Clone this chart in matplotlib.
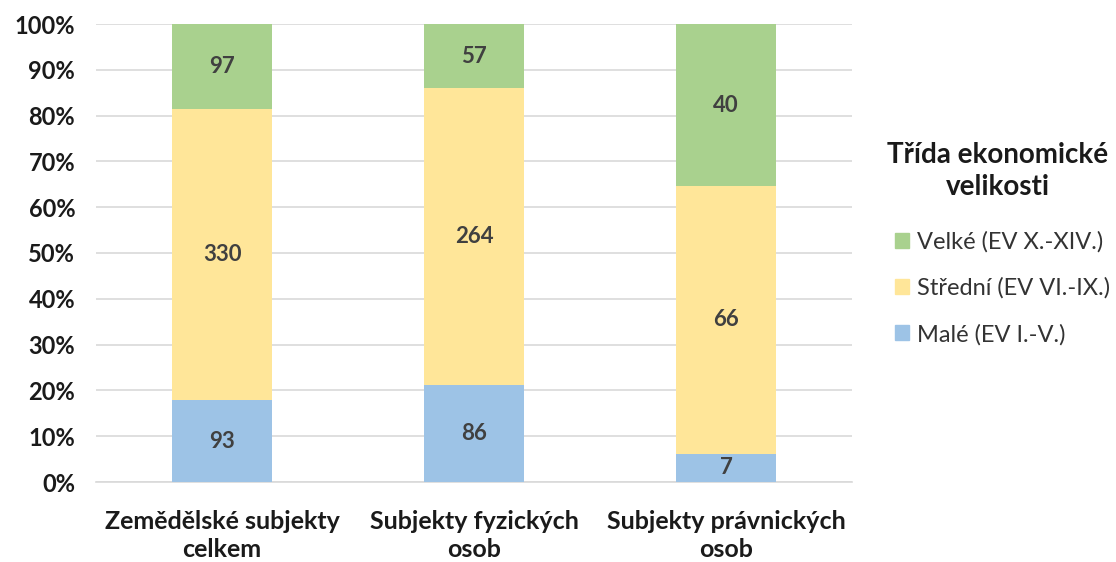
import matplotlib
matplotlib.use("Agg")
import matplotlib.pyplot as plt
import numpy as np
from matplotlib.patches import Patch

categories = ["Zemědělské subjekty\ncelkem", "Subjekty fyzických\nosob", "Subjekty právnických\nosob"]
male = [93, 86, 7]
stredni = [330, 264, 66]
velke = [97, 57, 40]
series_names = ["Malé (EV I.-V.)", "Střední (EV VI.-IX.)", "Velké (EV X.-XIV.)"]
colors = ["#9DC3E6", "#FFE699", "#A9D18E"]
yticks = [0, 10, 20, 30, 40, 50, 60, 70, 80, 90, 100]

plt.rcParams['font.family'] = ['Lato', 'DejaVu Sans']

fig = plt.figure(figsize=(11.16, 5.62), dpi=100)
ax = fig.add_axes([96/1116, 1-482/562, (852-96)/1116, (482-24)/562])

data = np.array([male, stredni, velke], dtype=float)
totals = data.sum(axis=0)
pct = data / totals * 100
x = np.arange(len(categories))
bottom = np.zeros(len(categories))
for i in range(3):
    ax.bar(x, pct[i], 0.4, bottom=bottom, color=colors[i], zorder=3)
    for j in range(len(categories)):
        ax.text(x[j], bottom[j] + pct[i][j] / 2, str(int(data[i][j])), ha='center', va='center',
                fontsize=16, fontweight='bold', color='#404040', zorder=4)
    bottom += pct[i]

ax.set_xlim(-0.5, 2.5)
ax.set_ylim(0, 100)
ax.set_yticks(yticks)
ax.set_yticklabels([f"{t}%" for t in yticks], fontsize=17, fontweight='bold', color='#1a1a1a')
ax.set_xticks(x)
ax.set_xticklabels(categories, fontsize=18, fontweight='bold', color='#1a1a1a', linespacing=1.25)
ax.tick_params(axis='both', length=0)
ax.tick_params(axis='x', pad=20)
ax.tick_params(axis='y', pad=15)
ax.grid(axis='y', color='#D9D9D9', linewidth=1.2, zorder=0)
for s in ['top', 'right', 'left']:
    ax.spines[s].set_visible(False)
ax.spines['bottom'].set_color('#D9D9D9')
ax.spines['bottom'].set_linewidth(1.2)

fig.text(998/1116, 1-171/562, "Třída ekonomické\nvelikosti", ha='center', va='center',
         fontsize=20, fontweight='bold', color='#1a1a1a', linespacing=1.3)

handles = [Patch(color=colors[i], label=series_names[i]) for i in [2, 1, 0]]
leg = fig.legend(handles=handles, loc='upper left', bbox_to_anchor=(895/1116, 1-231/562),
                 frameon=False, fontsize=17, borderaxespad=0, borderpad=0,
                 handlelength=0.6, handleheight=0.6, handletextpad=0.35, labelspacing=1.05)
for t in leg.get_texts():
    t.set_color('#333333')

fig.savefig("out.png", dpi=100)
